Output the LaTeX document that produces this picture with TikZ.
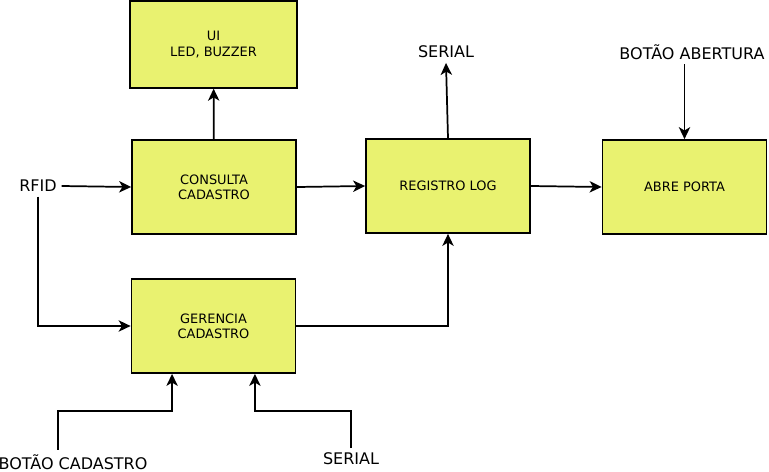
\documentclass[tikz,border=0pt]{standalone}
\usepackage{fontspec}
\setmainfont{DejaVu Sans}
\usepackage{tikz}
\usetikzlibrary{calc,positioning,arrows.meta}
\definecolor{blkfill}{RGB}{233,242,112}
\tikzset{blk/.style={rectangle,draw,fill=blkfill,line width=1.3pt,minimum width=123pt,minimum height=70.5pt,inner sep=0pt,align=center,font=\fontsize{9.7}{11.3}\selectfont},
lbl/.style={inner sep=3pt,font=\fontsize{12}{14}\selectfont}}

\begin{document}
\begin{tikzpicture}[>={Stealth[length=9pt,width=8.5pt,inset=2.5pt]},x=0.75pt,y=-0.75pt,line width=1.3pt]
    \useasboundingbox (0,0) rectangle (769,472);
    \node[blk,minimum width=125pt,minimum height=65pt] (ui) at (213.5,44.5) {UI\\LED, BUZZER};
    \node[blk] (consulta) at (214,187) {CONSULTA\\CADASTRO};
    \node[blk] (registro) at (448,186) {REGISTRO LOG};
    \node[blk] (abre) at (684.5,187) {ABRE PORTA};
    \node[blk] (gerencia) at (213.5,326) {GERENCIA\\CADASTRO};
    \node[lbl] (rfid) at (38,186) {RFID};
    \node[lbl] (serialtop) at (446,52) {SERIAL};
    \node[lbl] (babert) at (692,52) {BOTÃO ABERTURA};
    \node[lbl] (bcad) at (73,462) {BOTÃO CADASTRO};
    \node[lbl] (serialbot) at (351,459) {SERIAL};

    \coordinate (bcadin) at (bcad.north -| 58,0);
    \coordinate (gin1) at ($(gerencia.south west)!0.25!(gerencia.south east)$);
    \coordinate (gin2) at ($(gerencia.south west)!0.75!(gerencia.south east)$);

    \draw [->] (consulta) to (ui);
    \draw [->] (rfid.east) to (consulta.west);
    \draw [->] (rfid.south) |- (gerencia.west);
    \draw [->] (consulta.east) to (registro.west);
    \draw [->] (registro.east) to (abre.west);
    \draw [->] (registro.north) to (serialtop.south);
    \draw [->] (babert.south -| abre.north) to (abre.north);
    \draw [->] (gerencia.east) -| (registro.south);
    \draw [->] (bcadin) |- ($(gin1)+(0,37)$) to (gin1);
    \draw [->] (serialbot.north) |- ($(gin2)+(0,37)$) to (gin2);
\end{tikzpicture}
\end{document}
